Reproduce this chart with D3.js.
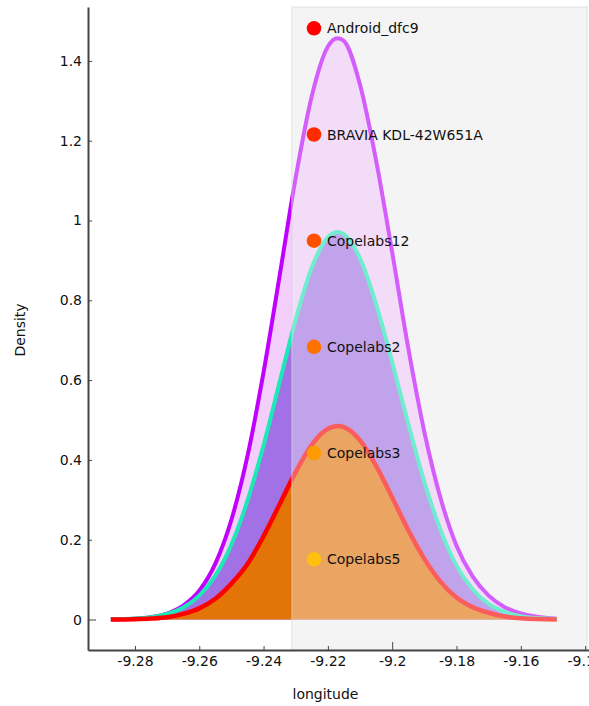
<!DOCTYPE html>
<html>
<head>
<meta charset="utf-8">
<script src="https://cdn.jsdelivr.net/npm/d3@7"></script>
<style>
  body { margin: 0; background: #fff; }
  svg { display: block; font-family: "DejaVu Sans", sans-serif; }
</style>
</head>
<body>
<div id="chart"></div>
<script>
// sample points
const longitude = [-9.2875, -9.28, -9.275, -9.27, -9.265, -9.26, -9.255, -9.25, -9.245, -9.24,
  -9.235, -9.23, -9.225, -9.22, -9.217, -9.215, -9.21, -9.205, -9.2, -9.195,
  -9.19, -9.185, -9.18, -9.175, -9.17, -9.165, -9.16, -9.155, -9.1488];
const densityPurple = [0.0005, 0.002, 0.006, 0.015, 0.035, 0.072, 0.14, 0.25, 0.41, 0.62,
  0.862, 1.108, 1.312, 1.436, 1.457, 1.45, 1.34, 1.15, 0.92, 0.68,
  0.47, 0.305, 0.185, 0.108, 0.06, 0.031, 0.015, 0.007, 0.002];
const densityTeal = [0.0005, 0.0024, 0.006, 0.014, 0.03, 0.06, 0.11, 0.188, 0.298, 0.437,
  0.595, 0.752, 0.882, 0.958, 0.971, 0.965, 0.905, 0.79, 0.645, 0.49,
  0.345, 0.225, 0.135, 0.076, 0.039, 0.019, 0.0085, 0.0036, 0.001];
const densityRed = [0.0002, 0.0009, 0.0023, 0.0055, 0.014, 0.028, 0.052, 0.09, 0.139, 0.209,
  0.289, 0.37, 0.438, 0.478, 0.485, 0.482, 0.449, 0.385, 0.306, 0.224,
  0.152, 0.095, 0.055, 0.031, 0.017, 0.0075, 0.003, 0.001, 0.0003];

const legendNames = ["Android_dfc9", "BRAVIA KDL-42W651A", "Copelabs12", "Copelabs2", "Copelabs3", "Copelabs5"];
const legendColors = ["#ff0000", "#ff2a00", "#ff5000", "#ff7200", "#ff9a00", "#ffc10e"];

const xTicks = [-9.28, -9.26, -9.24, -9.22, -9.2, -9.18, -9.16, -9.14];
const yTicks = [0, 0.2, 0.4, 0.6, 0.8, 1, 1.2, 1.4];
const selection = [-9.2312, -9.1394];

const W = 589, H = 706;
const margin = {top: 7, right: 0, bottom: 56, left: 88};

const svg = d3.select("#chart").append("svg")
  .attr("width", W)
  .attr("height", H);

const x = d3.scaleLinear()
  .domain([-9.2946, -9.1388])
  .range([margin.left, W - margin.right]);
const y = d3.scaleLinear()
  .domain([-0.0764, 1.5351])
  .range([H - margin.bottom, margin.top]);

const series = [
  {values: densityPurple, fill: "#f3cefb", stroke: "#c000ff", width: 4},
  {values: densityTeal, fill: "#a271e6", stroke: "#1de9b6", width: 4},
  {values: densityRed, fill: "#e37508", stroke: "#ff0000", width: 4.5}
];

// selected range background
svg.append("rect")
  .attr("x", x(selection[0]))
  .attr("y", margin.top)
  .attr("width", x(selection[1]) - x(selection[0]))
  .attr("height", y.range()[0] - margin.top)
  .attr("fill", "#f4f4f4");

const area = d3.area()
  .x((d, i) => x(longitude[i]))
  .y0(y(0))
  .y1(d => y(d))
  .curve(d3.curveMonotoneX);
const line = d3.line()
  .x((d, i) => x(longitude[i]))
  .y(d => y(d))
  .curve(d3.curveMonotoneX);

series.forEach(s => {
  svg.append("path")
    .attr("d", area(s.values))
    .attr("fill", s.fill);
  svg.append("path")
    .attr("d", line(s.values))
    .attr("fill", "none")
    .attr("stroke", s.stroke)
    .attr("stroke-width", s.width)
    .attr("stroke-linejoin", "round");
});

// translucent cover over selected range
svg.append("rect")
  .attr("x", x(selection[0]))
  .attr("y", margin.top)
  .attr("width", x(selection[1]) - x(selection[0]))
  .attr("height", y.range()[0] - margin.top)
  .attr("fill", "#f4f4f4")
  .attr("fill-opacity", 0.38)
  .attr("stroke", "#d6d6d6")
  .attr("stroke-opacity", 0.7);

// axes
const xAxis = svg.append("g")
  .attr("transform", `translate(0, ${y.range()[0]})`)
  .call(d3.axisBottom(x).tickValues(xTicks).tickFormat(d => String(d))
    .tickSizeInner(-4).tickSizeOuter(0).tickPadding(6));
const yAxis = svg.append("g")
  .attr("transform", `translate(${margin.left}, 0)`)
  .call(d3.axisLeft(y).tickValues(yTicks).tickFormat(d => String(d))
    .tickSizeInner(-4).tickSizeOuter(0).tickPadding(6));

[xAxis, yAxis].forEach(g => {
  g.select(".domain").attr("stroke", "#444").attr("stroke-width", 2);
  g.selectAll(".tick line").attr("stroke", "#444");
  g.selectAll(".tick text").attr("fill", "#111").style("font-size", "14px")
    .style("font-family", "DejaVu Sans, sans-serif");
});
xAxis.selectAll(".tick").filter(d => d === -9.2).select("line").attr("y2", -8);
yAxis.selectAll(".tick").filter(d => d === 0).select("line").attr("x2", 8);

svg.append("text")
  .attr("x", (margin.left + W) / 2 - 13)
  .attr("y", 699)
  .attr("text-anchor", "middle")
  .style("font-size", "14px")
  .attr("fill", "#111")
  .text("longitude");

svg.append("text")
  .attr("transform", "translate(25, 330) rotate(-90)")
  .attr("text-anchor", "middle")
  .style("font-size", "14px")
  .attr("fill", "#111")
  .text("Density");

// legend
const legend = svg.append("g")
  .attr("transform", "translate(314, 28.3)");
const item = legend.selectAll("g")
  .data(legendNames)
  .enter()
  .append("g")
    .attr("transform", (d, i) => `translate(0, ${i * 106.2})`);
item.append("circle")
  .attr("r", 7.3)
  .attr("fill", (d, i) => legendColors[i]);
item.append("text")
  .attr("x", 13)
  .attr("dy", "0.36em")
  .style("font-size", "14px")
  .attr("fill", "#111")
  .text(d => d);
</script>
</body>
</html>
